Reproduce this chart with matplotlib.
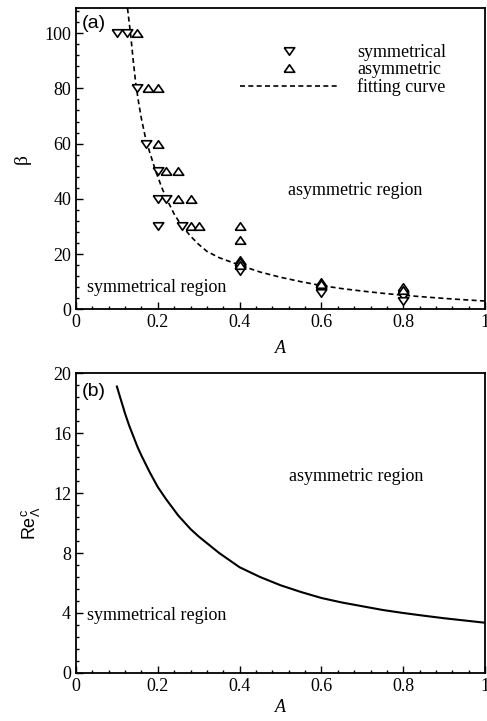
import numpy as np
import matplotlib

matplotlib.use("Agg")
import matplotlib.pyplot as plt  # noqa: E402
from matplotlib.ticker import MultipleLocator  # noqa: E402
from matplotlib.lines import Line2D  # noqa: E402

# ---- data ----
# panel (a): transition points
sym_A = [0.1, 0.125, 0.15, 0.17, 0.2, 0.2, 0.22, 0.2, 0.26, 0.4, 0.4, 0.6, 0.6, 0.8, 0.8]
sym_beta = [100, 100, 80, 60, 50, 40, 40, 30, 30, 15, 14, 7, 6, 5, 3]
asym_A = [0.15, 0.175, 0.2, 0.2, 0.22, 0.25, 0.25, 0.28, 0.28, 0.3,
          0.4, 0.4, 0.4, 0.4, 0.4, 0.6, 0.6, 0.8, 0.8]
asym_beta = [100, 80, 80, 60, 50, 50, 40, 40, 30, 30,
             30, 25, 18, 17, 16, 10, 9, 8, 7]

# fitting curve
fit_A = [0.126, 0.13, 0.134, 0.14, 0.146, 0.153, 0.16, 0.17, 0.18, 0.195, 0.21,
         0.22, 0.24, 0.255, 0.28, 0.3, 0.32, 0.35, 0.4, 0.45, 0.5, 0.55, 0.6,
         0.65, 0.7, 0.75, 0.8, 0.85, 0.9, 0.95, 1.0]
fit_beta = [109, 104, 99, 90, 82, 75, 69, 62, 57, 50, 44,
            40.5, 34.5, 31, 26.5, 23.5, 21, 18.7, 16, 13.5, 11.6, 10, 8.6,
            7.5, 6.6, 5.8, 5.1, 4.5, 3.95, 3.45, 3.0]

# panel (b): critical Reynolds number
crit_A = [0.1, 0.11, 0.12, 0.13, 0.14, 0.15, 0.16, 0.18, 0.2, 0.22, 0.25, 0.28,
          0.3, 0.35, 0.4, 0.45, 0.5, 0.55, 0.6, 0.65, 0.7, 0.75, 0.8, 0.85,
          0.9, 0.95, 1.0]
crit_Re = [19.1, 18.2, 17.3, 16.5, 15.8, 15.1, 14.5, 13.4, 12.4, 11.6, 10.5, 9.6,
           9.1, 8.0, 7.05, 6.4, 5.85, 5.4, 5.0, 4.7, 4.45, 4.2, 4.0, 3.82,
           3.65, 3.5, 3.35]

SERIF = "Liberation Serif"
SANS = "Liberation Sans"
FS = 13

plt.rcParams["font.family"] = SERIF
plt.rcParams["mathtext.fontset"] = "custom"
plt.rcParams["mathtext.rm"] = SANS
plt.rcParams["mathtext.it"] = SANS + ":italic"

# widened triangles (the original image is stretched sideways)
tri_down = [(-1, 0.72), (1, 0.72), (0, -0.72), (-1, 0.72)]
tri_up = [(-1, -0.72), (1, -0.72), (0, 0.72), (-1, -0.72)]


def style_axes(ax, ymax, ymaj, ymin):
    ax.set_xlim(0, 1)
    ax.set_ylim(0, ymax)
    ax.xaxis.set_major_locator(MultipleLocator(0.2))
    ax.xaxis.set_minor_locator(MultipleLocator(0.04))
    ax.yaxis.set_major_locator(MultipleLocator(ymaj))
    ax.yaxis.set_minor_locator(MultipleLocator(ymin))
    ax.tick_params(which="both", direction="in", top=False, right=False,
                   labelsize=FS, width=1.0)
    ax.tick_params(which="major", length=5)
    ax.tick_params(which="minor", length=2.5)
    ax.xaxis.set_major_formatter(plt.FuncFormatter(lambda v, p: f"{v:g}"))
    for s in ax.spines.values():
        s.set_linewidth(1.3)


fig = plt.figure(figsize=(4.87, 7.21), dpi=100)
ax1 = fig.add_axes([0.156, 0.571, 0.840, 0.4175])
ax2 = fig.add_axes([0.156, 0.0666, 0.840, 0.416])

# ---- panel (a) ----
ax1.plot(fit_A, fit_beta, color="black", linestyle=(0, (3, 2)), linewidth=1.2,
         label="fitting curve", zorder=2)
ax1.plot(sym_A, sym_beta, linestyle="none", marker=tri_down, markersize=7.5,
         markerfacecolor="white", markeredgecolor="black", markeredgewidth=1.2, zorder=3)
ax1.plot(asym_A, asym_beta, linestyle="none", marker=tri_up, markersize=7.5,
         markerfacecolor="white", markeredgecolor="black", markeredgewidth=1.2, zorder=3)
style_axes(ax1, 109, 20, 4)
ax1.set_xlabel("A", fontstyle="italic", fontsize=FS, labelpad=6)
ax1.set_ylabel("β", fontsize=FS + 1, labelpad=10)

handles = [
    Line2D([], [], linestyle="none", marker=tri_down, markersize=7.5,
           markerfacecolor="white", markeredgecolor="black", markeredgewidth=1.2),
    Line2D([], [], linestyle="none", marker=tri_up, markersize=7.5,
           markerfacecolor="white", markeredgecolor="black", markeredgewidth=1.2),
    Line2D([], [], color="black", linestyle=(0, (3, 2)), linewidth=1.2),
]
ax1.legend(handles, ["symmetrical", "asymmetric", "fitting curve"],
           loc="upper left", bbox_to_anchor=(0.40, 0.88), frameon=False,
           fontsize=FS, handlelength=5.5, handletextpad=1.0, labelspacing=0.0,
           borderpad=0, borderaxespad=0)

ax1.text(0.014, 103.6, "(a)", family=SANS, fontsize=FS + 1, va="center", ha="left")
ax1.text(0.026, 8, "symmetrical region", fontsize=FS, va="center", ha="left")
ax1.text(0.682, 43, "asymmetric region", fontsize=FS, va="center", ha="center")

# ---- panel (b) ----
ax2.plot(crit_A, crit_Re, color="black", linewidth=1.5)
style_axes(ax2, 20, 4, 0.8)
ax2.set_xlabel("A", fontstyle="italic", fontsize=FS, labelpad=3)
ax2.set_ylabel(r"Re$^{\rm c}_{\Lambda}$", family=SANS, fontsize=FS, labelpad=8)
ax2.text(0.014, 18.75, "(b)", family=SANS, fontsize=FS + 1, va="center", ha="left")
ax2.text(0.028, 3.8, "symmetrical region", fontsize=FS, va="center", ha="left")
ax2.text(0.684, 13.1, "asymmetric region", fontsize=FS, va="center", ha="center")

fig.savefig("out.png", dpi=100)
plt.close(fig)
